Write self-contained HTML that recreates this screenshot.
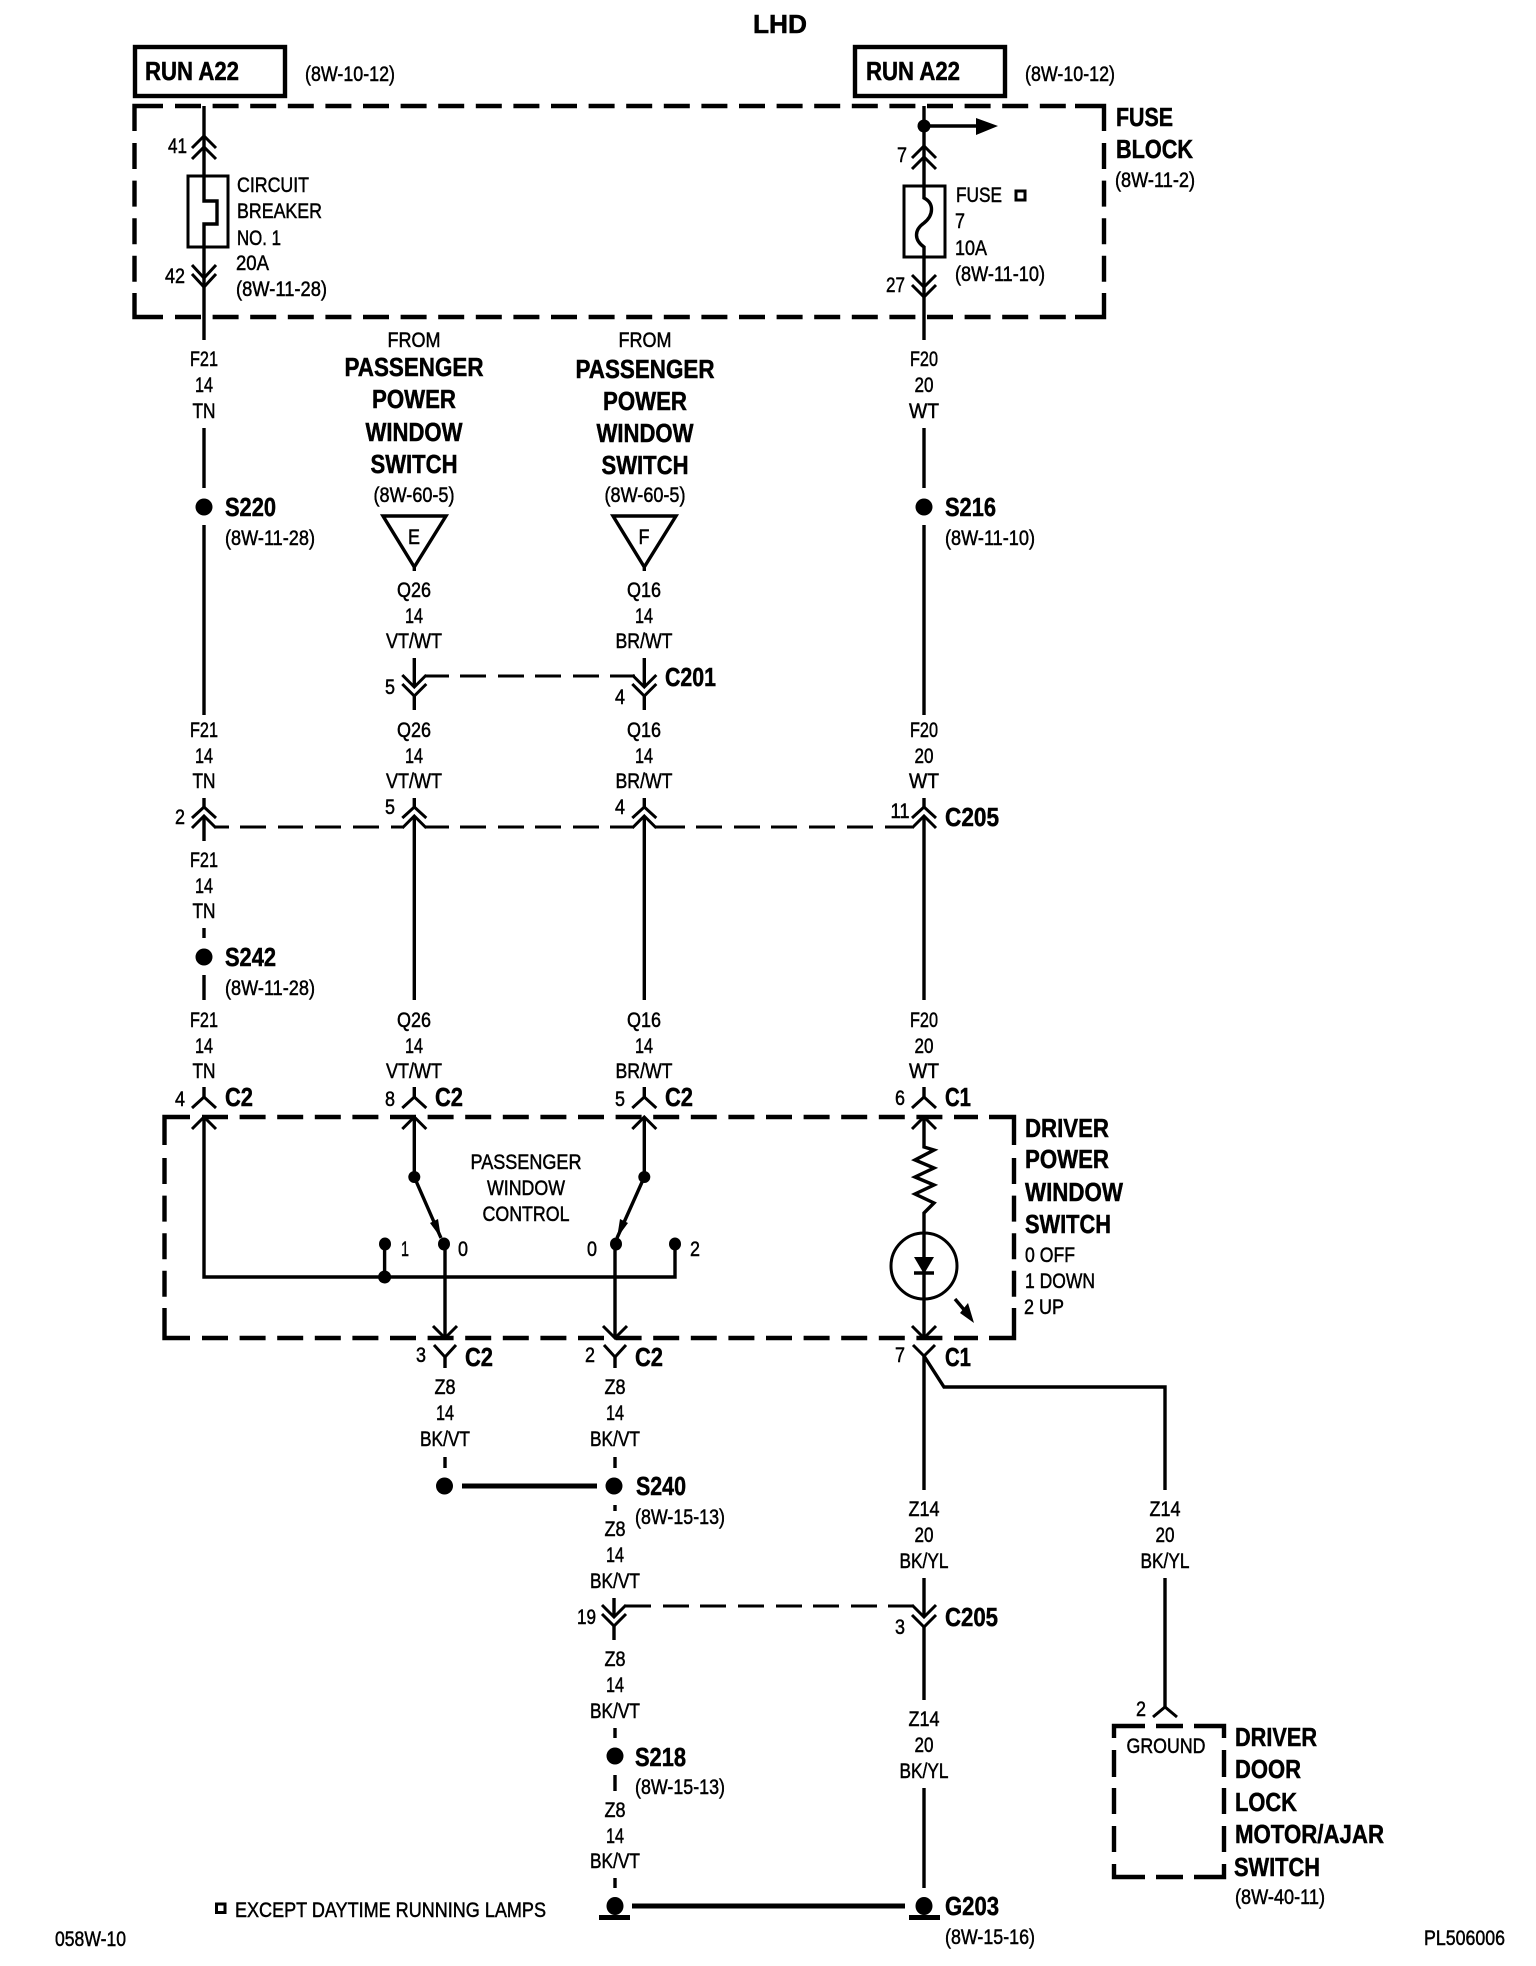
<!DOCTYPE html>
<html><head><meta charset="utf-8"><style>
html,body{margin:0;padding:0;background:#fff}
svg{display:block}
text{font-family:"Liberation Sans",Arial,sans-serif;fill:#000}
.n{font-size:21.5px;stroke:#000;stroke-width:.5px}
.b{font-size:26px;font-weight:bold;stroke:#000;stroke-width:.5px}
.m{text-anchor:middle}
.w{fill:none;stroke:#000;stroke-width:3.4}
.c{fill:none;stroke:#000;stroke-width:3}
.d{fill:none;stroke:#000;stroke-width:4.4}
.k{fill:none;stroke:#000;stroke-width:5}
</style></head><body>
<svg width="1536" height="1966" viewBox="0 0 1536 1966" xmlns="http://www.w3.org/2000/svg">
<rect width="1536" height="1966" fill="#fff"/>

<!-- Boxes -->
<rect x="135" y="47" width="150" height="49" class="d"/>
<rect x="855" y="47" width="150" height="49" class="d"/>

<!-- Fuse block dashed -->
<path class="d" d="M134.5 131V106H163M1075 106H1104V131M134.5 293V317H163M1075 317H1104V293"/>
<path class="d" stroke-dasharray="26 11.6" d="M175 106H1066M175 317H1066M134.5 143V282M1104 143V282"/>

<!-- Driver switch dashed -->
<path class="d" d="M164.5 1145V1117H190M989 1117H1014V1145M164.5 1308V1338H190M989 1338H1014V1308"/>
<path class="d" stroke-dasharray="26 11.6" d="M202 1117H978M202 1338H978M164.5 1158V1297M1014 1158V1297"/>

<!-- Ground box dashed -->
<path class="d" d="M1114 1738V1726H1145M1156 1726H1183M1194 1726H1224V1738M1114 1750V1777M1114 1788V1814M1114 1826V1852M1224 1750V1777M1224 1788V1814M1224 1826V1852M1114 1864V1877H1145M1156 1877H1183M1194 1877H1224V1864"/>

<!-- Wires column A -->
<path class="w" d="M204 106V201H217V224H204V340M204 428V488M204 525V715M204 816V841M204 928V938M204 975V1000"/>
<path class="c" d="M192 148L204 136L216 148M192 159L204 147L216 159M192 265L204 278L216 265M192 274L204 287L216 274"/>
<rect x="188" y="176" width="40" height="71" class="c" stroke-width="3.4"/>

<!-- Wires column D top -->
<path class="w" d="M924 106V198C934 203 934 215 924 223C914 230 914 240 924 247V340M924 428V488M924 525V715M924 816V1000"/>
<path class="c" d="M912 158L924 146L936 158M912 169L924 157L936 169M912 275L924 287L936 275M912 285L924 297L936 285"/>
<rect x="904" y="186" width="41" height="71" class="c"/>
<circle cx="924" cy="126" r="6.5"/>
<path class="w" d="M924 126H980"/>
<path d="M976 118L998 126L976 135Z"/>

<!-- Triangles -->
<path class="w" d="M383 516H446L414.3 567Z"/>
<path class="w" d="M414.3 567V571"/>
<path class="w" d="M613 516H676L644.3 567ZM644.3 567V571"/>

<!-- C201 -->
<path class="w" d="M414.3 658V687M414.3 695V710M644.3 658V687M644.3 695V710"/>
<path class="c" d="M402.3 675L414.3 687L426.3 675M402.3 684L414.3 696L426.3 684M632.3 675L644.3 687L656.3 675M632.3 684L644.3 696L656.3 684"/>
<path class="c" d="M425 676H449M460 676H486M498 676H524M535 676H561M573 676H599M610 676H635"/>

<!-- C205 upper -->
<path class="c" d="M192 818L204 807L216 818M192 828L204 816L216 828M402.3 818L414.3 807L426.3 818M402.3 828L414.3 816L426.3 828M632.3 818L644.3 807L656.3 818M632.3 828L644.3 816L656.3 828M912 818L924 807L936 818M912 828L924 816L936 828"/>
<path class="w" d="M204 798V807M414.3 798V807M644.3 798V807M924 798V807M414.3 816V1000M644.3 816V1000"/>
<path class="c" d="M215 827H229M240 827H266M278 827H303M315 827H341M353 827H379M391 827H404M425 827H449M460 827H486M498 827H524M535 827H561M573 827H599M610 827H633M655 827H685M696 827H722M734 827H760M771 827H797M809 827H835M847 827H873M885 827H912"/>

<!-- Switch top connectors -->
<path class="w" d="M204 1087V1097M414.3 1087V1097M644.3 1087V1097M924 1087V1097"/>
<path class="c" d="M192 1108L204 1097L216 1108M192 1129L204 1117L216 1129M402.3 1108L414.3 1097L426.3 1108M402.3 1129L414.3 1117L426.3 1129M632.3 1108L644.3 1097L656.3 1108M632.3 1129L644.3 1117L656.3 1129M912 1108L924 1097L936 1108M912 1129L924 1117L936 1129"/>

<!-- Switch internals -->
<path class="w" d="M204 1117V1277H675V1244M384.6 1244V1277M414.3 1117V1177L441 1238M644.3 1117V1177L617 1238M445 1244V1338M615 1244V1338"/>
<circle cx="414.3" cy="1177" r="6"/><circle cx="644.3" cy="1177" r="6"/>
<ellipse cx="385" cy="1244" rx="6" ry="6.5"/><circle cx="384.6" cy="1277" r="6.5"/>
<ellipse cx="444" cy="1244" rx="6" ry="6.5"/><ellipse cx="616" cy="1244" rx="6" ry="6.5"/><ellipse cx="675" cy="1244" rx="6" ry="6.5"/>
<path d="M441 1238L430 1223L438 1219Z"/><path d="M617 1238L620 1219L628 1223Z"/>

<!-- Resistor + lamp -->
<path class="w" d="M924 1117V1147L934 1150L915 1160L934 1168L915 1177L934 1185L915 1194L934 1203L924 1213V1338"/>
<circle cx="924" cy="1266" r="33" class="c"/>
<path d="M914 1257H934L924 1274Z"/>
<path class="w" d="M914 1273H934"/>
<path d="M960 1313L968 1303L974 1323Z"/>
<path class="w" d="M955 1299L966 1312"/>

<!-- Switch bottom connectors -->
<path class="c" d="M433 1326L445 1338L457 1326M603 1326L615 1338L627 1326M912 1326L924 1338L936 1326M434 1345L445 1357L456 1345M604 1345L615 1357L626 1345M913 1345L924 1356L935 1345"/>
<path class="w" d="M445 1357V1368M615 1357V1368M445 1457V1468M615 1457V1468M615 1505V1511M924 1356V1490M924 1356L944 1387H1165V1490M1165 1578V1707M924 1578V1617M924 1626V1700M924 1788V1888M614 1598V1617M614 1625V1640M615 1728V1738M615 1775V1791M615 1878V1888"/>

<!-- S240 -->
<circle cx="444.5" cy="1486" r="8.5"/><circle cx="614" cy="1486" r="8.5"/>
<path class="k" d="M462 1486H597"/>

<!-- lower C205 -->
<path class="c" d="M602 1605L614 1617L626 1605M602 1614L614 1626L626 1614M912 1605L924 1617L936 1605M912 1615L924 1627L936 1615"/>
<path class="c" d="M625 1606H651M663 1606H689M700 1606H726M738 1606H764M776 1606H802M813 1606H839M851 1606H877M888 1606H913"/>
<path class="c" d="M1153 1717L1165 1707L1177 1717"/>

<!-- S dots -->
<circle cx="204" cy="507" r="8.5"/><circle cx="924" cy="507" r="8.5"/><circle cx="204" cy="957" r="8.5"/>
<circle cx="615" cy="1756" r="8.5"/>

<!-- Grounds -->
<ellipse cx="615" cy="1906" rx="8.5" ry="9"/><rect x="599" y="1915" width="31" height="5"/>
<ellipse cx="924" cy="1906" rx="8.5" ry="9"/><rect x="909" y="1915" width="31" height="5"/>
<path class="k" d="M632 1906H905"/>

<!-- Small squares -->
<rect x="1016" y="191" width="9" height="9" class="c"/>
<rect x="216.5" y="1904" width="8.5" height="8.5" class="c"/>

<!-- Texts -->
<text x="780" y="33" class="b m" textLength="54" lengthAdjust="spacingAndGlyphs">LHD</text>
<text x="145" y="80" class="b" textLength="94" lengthAdjust="spacingAndGlyphs">RUN A22</text>
<text x="866" y="80" class="b" textLength="94" lengthAdjust="spacingAndGlyphs">RUN A22</text>
<text x="305" y="81" class="n" textLength="90" lengthAdjust="spacingAndGlyphs">(8W-10-12)</text>
<text x="1025" y="81" class="n" textLength="90" lengthAdjust="spacingAndGlyphs">(8W-10-12)</text>

<text x="1116" y="126" class="b" textLength="57" lengthAdjust="spacingAndGlyphs">FUSE</text>
<text x="1116" y="158" class="b" textLength="77" lengthAdjust="spacingAndGlyphs">BLOCK</text>
<text x="1115" y="187" class="n" textLength="80" lengthAdjust="spacingAndGlyphs">(8W-11-2)</text>

<text x="168" y="153" class="n" textLength="19" lengthAdjust="spacingAndGlyphs">41</text>
<text x="165" y="283" class="n" textLength="20" lengthAdjust="spacingAndGlyphs">42</text>
<text x="237" y="192" class="n" textLength="72" lengthAdjust="spacingAndGlyphs">CIRCUIT</text>
<text x="237" y="218" class="n" textLength="85" lengthAdjust="spacingAndGlyphs">BREAKER</text>
<text x="237" y="245" class="n" textLength="44" lengthAdjust="spacingAndGlyphs">NO. 1</text>
<text x="236" y="270" class="n" textLength="33" lengthAdjust="spacingAndGlyphs">20A</text>
<text x="236" y="296" class="n" textLength="91" lengthAdjust="spacingAndGlyphs">(8W-11-28)</text>

<text x="897" y="162" class="n" textLength="10" lengthAdjust="spacingAndGlyphs">7</text>
<text x="886" y="292" class="n" textLength="19" lengthAdjust="spacingAndGlyphs">27</text>
<text x="956" y="202" class="n" textLength="46" lengthAdjust="spacingAndGlyphs">FUSE</text>
<text x="955" y="228" class="n" textLength="10" lengthAdjust="spacingAndGlyphs">7</text>
<text x="955" y="255" class="n" textLength="32" lengthAdjust="spacingAndGlyphs">10A</text>
<text x="955" y="281" class="n" textLength="90" lengthAdjust="spacingAndGlyphs">(8W-11-10)</text>

<!-- A col labels -->
<text x="204" y="366" class="n m" textLength="28" lengthAdjust="spacingAndGlyphs">F21</text>
<text x="204" y="392" class="n m" textLength="18" lengthAdjust="spacingAndGlyphs">14</text>
<text x="204" y="418" class="n m" textLength="23" lengthAdjust="spacingAndGlyphs">TN</text>
<text x="924" y="366" class="n m" textLength="28" lengthAdjust="spacingAndGlyphs">F20</text>
<text x="924" y="392" class="n m" textLength="19" lengthAdjust="spacingAndGlyphs">20</text>
<text x="924" y="418" class="n m" textLength="30" lengthAdjust="spacingAndGlyphs">WT</text>
<text x="225" y="516" class="b" textLength="51" lengthAdjust="spacingAndGlyphs">S220</text>
<text x="225" y="545" class="n" textLength="90" lengthAdjust="spacingAndGlyphs">(8W-11-28)</text>
<text x="945" y="516" class="b" textLength="51" lengthAdjust="spacingAndGlyphs">S216</text>
<text x="945" y="545" class="n" textLength="90" lengthAdjust="spacingAndGlyphs">(8W-11-10)</text>

<!-- FROM blocks -->
<text x="414" y="347" class="n m" textLength="53" lengthAdjust="spacingAndGlyphs">FROM</text>
<text x="414" y="376" class="b m" textLength="139" lengthAdjust="spacingAndGlyphs">PASSENGER</text>
<text x="414" y="408" class="b m" textLength="84" lengthAdjust="spacingAndGlyphs">POWER</text>
<text x="414" y="441" class="b m" textLength="97" lengthAdjust="spacingAndGlyphs">WINDOW</text>
<text x="414" y="473" class="b m" textLength="87" lengthAdjust="spacingAndGlyphs">SWITCH</text>
<text x="414" y="502" class="n m" textLength="81" lengthAdjust="spacingAndGlyphs">(8W-60-5)</text>
<text x="645" y="347" class="n m" textLength="53" lengthAdjust="spacingAndGlyphs">FROM</text>
<text x="645" y="378" class="b m" textLength="139" lengthAdjust="spacingAndGlyphs">PASSENGER</text>
<text x="645" y="410" class="b m" textLength="84" lengthAdjust="spacingAndGlyphs">POWER</text>
<text x="645" y="442" class="b m" textLength="97" lengthAdjust="spacingAndGlyphs">WINDOW</text>
<text x="645" y="474" class="b m" textLength="87" lengthAdjust="spacingAndGlyphs">SWITCH</text>
<text x="645" y="502" class="n m" textLength="81" lengthAdjust="spacingAndGlyphs">(8W-60-5)</text>
<text x="414" y="544" class="n m" textLength="12" lengthAdjust="spacingAndGlyphs">E</text>
<text x="644" y="544" class="n m" textLength="11" lengthAdjust="spacingAndGlyphs">F</text>

<!-- Q labels -->
<text x="414" y="597" class="n m" textLength="34" lengthAdjust="spacingAndGlyphs">Q26</text>
<text x="414" y="623" class="n m" textLength="18" lengthAdjust="spacingAndGlyphs">14</text>
<text x="414" y="648" class="n m" textLength="56" lengthAdjust="spacingAndGlyphs">VT/WT</text>
<text x="644" y="597" class="n m" textLength="34" lengthAdjust="spacingAndGlyphs">Q16</text>
<text x="644" y="623" class="n m" textLength="18" lengthAdjust="spacingAndGlyphs">14</text>
<text x="644" y="648" class="n m" textLength="57" lengthAdjust="spacingAndGlyphs">BR/WT</text>
<text x="390" y="694" class="n m" textLength="10" lengthAdjust="spacingAndGlyphs">5</text>
<text x="620" y="704" class="n m" textLength="10" lengthAdjust="spacingAndGlyphs">4</text>
<text x="665" y="686" class="b" textLength="51" lengthAdjust="spacingAndGlyphs">C201</text>

<text x="204" y="737" class="n m" textLength="28" lengthAdjust="spacingAndGlyphs">F21</text>
<text x="204" y="763" class="n m" textLength="18" lengthAdjust="spacingAndGlyphs">14</text>
<text x="204" y="788" class="n m" textLength="23" lengthAdjust="spacingAndGlyphs">TN</text>
<text x="414" y="737" class="n m" textLength="34" lengthAdjust="spacingAndGlyphs">Q26</text>
<text x="414" y="763" class="n m" textLength="18" lengthAdjust="spacingAndGlyphs">14</text>
<text x="414" y="788" class="n m" textLength="56" lengthAdjust="spacingAndGlyphs">VT/WT</text>
<text x="644" y="737" class="n m" textLength="34" lengthAdjust="spacingAndGlyphs">Q16</text>
<text x="644" y="763" class="n m" textLength="18" lengthAdjust="spacingAndGlyphs">14</text>
<text x="644" y="788" class="n m" textLength="57" lengthAdjust="spacingAndGlyphs">BR/WT</text>
<text x="924" y="737" class="n m" textLength="28" lengthAdjust="spacingAndGlyphs">F20</text>
<text x="924" y="763" class="n m" textLength="19" lengthAdjust="spacingAndGlyphs">20</text>
<text x="924" y="788" class="n m" textLength="30" lengthAdjust="spacingAndGlyphs">WT</text>

<text x="180" y="824" class="n m" textLength="10" lengthAdjust="spacingAndGlyphs">2</text>
<text x="390" y="814" class="n m" textLength="10" lengthAdjust="spacingAndGlyphs">5</text>
<text x="620" y="814" class="n m" textLength="10" lengthAdjust="spacingAndGlyphs">4</text>
<text x="900" y="818" class="n m" textLength="19" lengthAdjust="spacingAndGlyphs">11</text>
<text x="945" y="826" class="b" textLength="54" lengthAdjust="spacingAndGlyphs">C205</text>

<text x="204" y="867" class="n m" textLength="28" lengthAdjust="spacingAndGlyphs">F21</text>
<text x="204" y="893" class="n m" textLength="18" lengthAdjust="spacingAndGlyphs">14</text>
<text x="204" y="918" class="n m" textLength="23" lengthAdjust="spacingAndGlyphs">TN</text>
<text x="225" y="966" class="b" textLength="51" lengthAdjust="spacingAndGlyphs">S242</text>
<text x="225" y="995" class="n" textLength="90" lengthAdjust="spacingAndGlyphs">(8W-11-28)</text>

<text x="204" y="1027" class="n m" textLength="28" lengthAdjust="spacingAndGlyphs">F21</text>
<text x="204" y="1053" class="n m" textLength="18" lengthAdjust="spacingAndGlyphs">14</text>
<text x="204" y="1078" class="n m" textLength="23" lengthAdjust="spacingAndGlyphs">TN</text>
<text x="414" y="1027" class="n m" textLength="34" lengthAdjust="spacingAndGlyphs">Q26</text>
<text x="414" y="1053" class="n m" textLength="18" lengthAdjust="spacingAndGlyphs">14</text>
<text x="414" y="1078" class="n m" textLength="56" lengthAdjust="spacingAndGlyphs">VT/WT</text>
<text x="644" y="1027" class="n m" textLength="34" lengthAdjust="spacingAndGlyphs">Q16</text>
<text x="644" y="1053" class="n m" textLength="18" lengthAdjust="spacingAndGlyphs">14</text>
<text x="644" y="1078" class="n m" textLength="57" lengthAdjust="spacingAndGlyphs">BR/WT</text>
<text x="924" y="1027" class="n m" textLength="28" lengthAdjust="spacingAndGlyphs">F20</text>
<text x="924" y="1053" class="n m" textLength="19" lengthAdjust="spacingAndGlyphs">20</text>
<text x="924" y="1078" class="n m" textLength="30" lengthAdjust="spacingAndGlyphs">WT</text>

<text x="180" y="1106" class="n m" textLength="10" lengthAdjust="spacingAndGlyphs">4</text>
<text x="390" y="1106" class="n m" textLength="10" lengthAdjust="spacingAndGlyphs">8</text>
<text x="620" y="1106" class="n m" textLength="10" lengthAdjust="spacingAndGlyphs">5</text>
<text x="900" y="1105" class="n m" textLength="10" lengthAdjust="spacingAndGlyphs">6</text>
<text x="225" y="1106" class="b" textLength="28" lengthAdjust="spacingAndGlyphs">C2</text>
<text x="435" y="1106" class="b" textLength="28" lengthAdjust="spacingAndGlyphs">C2</text>
<text x="665" y="1106" class="b" textLength="28" lengthAdjust="spacingAndGlyphs">C2</text>
<text x="945" y="1106" class="b" textLength="26" lengthAdjust="spacingAndGlyphs">C1</text>

<text x="526" y="1169" class="n m" textLength="111" lengthAdjust="spacingAndGlyphs">PASSENGER</text>
<text x="526" y="1195" class="n m" textLength="78" lengthAdjust="spacingAndGlyphs">WINDOW</text>
<text x="526" y="1221" class="n m" textLength="87" lengthAdjust="spacingAndGlyphs">CONTROL</text>
<text x="405" y="1256" class="n m" textLength="8" lengthAdjust="spacingAndGlyphs">1</text>
<text x="463" y="1256" class="n m" textLength="10" lengthAdjust="spacingAndGlyphs">0</text>
<text x="592" y="1256" class="n m" textLength="10" lengthAdjust="spacingAndGlyphs">0</text>
<text x="695" y="1256" class="n m" textLength="10" lengthAdjust="spacingAndGlyphs">2</text>

<text x="1025" y="1137" class="b" textLength="84" lengthAdjust="spacingAndGlyphs">DRIVER</text>
<text x="1025" y="1168" class="b" textLength="84" lengthAdjust="spacingAndGlyphs">POWER</text>
<text x="1025" y="1201" class="b" textLength="98" lengthAdjust="spacingAndGlyphs">WINDOW</text>
<text x="1025" y="1233" class="b" textLength="86" lengthAdjust="spacingAndGlyphs">SWITCH</text>
<text x="1025" y="1262" class="n" textLength="50" lengthAdjust="spacingAndGlyphs">0 OFF</text>
<text x="1025" y="1288" class="n" textLength="70" lengthAdjust="spacingAndGlyphs">1 DOWN</text>
<text x="1024" y="1314" class="n" textLength="40" lengthAdjust="spacingAndGlyphs">2 UP</text>

<text x="421" y="1362" class="n m" textLength="10" lengthAdjust="spacingAndGlyphs">3</text>
<text x="590" y="1362" class="n m" textLength="10" lengthAdjust="spacingAndGlyphs">2</text>
<text x="900" y="1362" class="n m" textLength="10" lengthAdjust="spacingAndGlyphs">7</text>
<text x="465" y="1366" class="b" textLength="28" lengthAdjust="spacingAndGlyphs">C2</text>
<text x="635" y="1366" class="b" textLength="28" lengthAdjust="spacingAndGlyphs">C2</text>
<text x="945" y="1366" class="b" textLength="26" lengthAdjust="spacingAndGlyphs">C1</text>

<text x="445" y="1394" class="n m" textLength="21" lengthAdjust="spacingAndGlyphs">Z8</text>
<text x="445" y="1420" class="n m" textLength="18" lengthAdjust="spacingAndGlyphs">14</text>
<text x="445" y="1446" class="n m" textLength="50" lengthAdjust="spacingAndGlyphs">BK/VT</text>
<text x="615" y="1394" class="n m" textLength="21" lengthAdjust="spacingAndGlyphs">Z8</text>
<text x="615" y="1420" class="n m" textLength="18" lengthAdjust="spacingAndGlyphs">14</text>
<text x="615" y="1446" class="n m" textLength="50" lengthAdjust="spacingAndGlyphs">BK/VT</text>

<text x="636" y="1495" class="b" textLength="50" lengthAdjust="spacingAndGlyphs">S240</text>
<text x="635" y="1524" class="n" textLength="90" lengthAdjust="spacingAndGlyphs">(8W-15-13)</text>
<text x="615" y="1536" class="n m" textLength="21" lengthAdjust="spacingAndGlyphs">Z8</text>
<text x="615" y="1562" class="n m" textLength="18" lengthAdjust="spacingAndGlyphs">14</text>
<text x="615" y="1588" class="n m" textLength="50" lengthAdjust="spacingAndGlyphs">BK/VT</text>
<text x="577" y="1624" class="n" textLength="19" lengthAdjust="spacingAndGlyphs">19</text>
<text x="615" y="1666" class="n m" textLength="21" lengthAdjust="spacingAndGlyphs">Z8</text>
<text x="615" y="1692" class="n m" textLength="18" lengthAdjust="spacingAndGlyphs">14</text>
<text x="615" y="1718" class="n m" textLength="50" lengthAdjust="spacingAndGlyphs">BK/VT</text>
<text x="635" y="1766" class="b" textLength="51" lengthAdjust="spacingAndGlyphs">S218</text>
<text x="635" y="1794" class="n" textLength="90" lengthAdjust="spacingAndGlyphs">(8W-15-13)</text>
<text x="615" y="1817" class="n m" textLength="21" lengthAdjust="spacingAndGlyphs">Z8</text>
<text x="615" y="1843" class="n m" textLength="18" lengthAdjust="spacingAndGlyphs">14</text>
<text x="615" y="1868" class="n m" textLength="50" lengthAdjust="spacingAndGlyphs">BK/VT</text>

<text x="924" y="1516" class="n m" textLength="31" lengthAdjust="spacingAndGlyphs">Z14</text>
<text x="924" y="1542" class="n m" textLength="19" lengthAdjust="spacingAndGlyphs">20</text>
<text x="924" y="1568" class="n m" textLength="49" lengthAdjust="spacingAndGlyphs">BK/YL</text>
<text x="1165" y="1516" class="n m" textLength="31" lengthAdjust="spacingAndGlyphs">Z14</text>
<text x="1165" y="1542" class="n m" textLength="19" lengthAdjust="spacingAndGlyphs">20</text>
<text x="1165" y="1568" class="n m" textLength="49" lengthAdjust="spacingAndGlyphs">BK/YL</text>
<text x="900" y="1634" class="n m" textLength="10" lengthAdjust="spacingAndGlyphs">3</text>
<text x="945" y="1626" class="b" textLength="53" lengthAdjust="spacingAndGlyphs">C205</text>
<text x="924" y="1726" class="n m" textLength="31" lengthAdjust="spacingAndGlyphs">Z14</text>
<text x="924" y="1752" class="n m" textLength="19" lengthAdjust="spacingAndGlyphs">20</text>
<text x="924" y="1778" class="n m" textLength="49" lengthAdjust="spacingAndGlyphs">BK/YL</text>

<text x="1141" y="1716" class="n m" textLength="10" lengthAdjust="spacingAndGlyphs">2</text>
<text x="1166" y="1753" class="n m" textLength="79" lengthAdjust="spacingAndGlyphs">GROUND</text>
<text x="1235" y="1746" class="b" textLength="82" lengthAdjust="spacingAndGlyphs">DRIVER</text>
<text x="1235" y="1778" class="b" textLength="66" lengthAdjust="spacingAndGlyphs">DOOR</text>
<text x="1235" y="1811" class="b" textLength="62" lengthAdjust="spacingAndGlyphs">LOCK</text>
<text x="1235" y="1843" class="b" textLength="149" lengthAdjust="spacingAndGlyphs">MOTOR/AJAR</text>
<text x="1234" y="1876" class="b" textLength="86" lengthAdjust="spacingAndGlyphs">SWITCH</text>
<text x="1235" y="1904" class="n" textLength="90" lengthAdjust="spacingAndGlyphs">(8W-40-11)</text>

<text x="235" y="1917" class="n" textLength="311" lengthAdjust="spacingAndGlyphs">EXCEPT DAYTIME RUNNING LAMPS</text>
<text x="945" y="1915" class="b" textLength="54" lengthAdjust="spacingAndGlyphs">G203</text>
<text x="945" y="1944" class="n" textLength="90" lengthAdjust="spacingAndGlyphs">(8W-15-16)</text>
<text x="55" y="1946" class="n" textLength="71" lengthAdjust="spacingAndGlyphs">058W-10</text>
<text x="1424" y="1945" class="n" textLength="81" lengthAdjust="spacingAndGlyphs">PL506006</text>
</svg>
</body></html>
